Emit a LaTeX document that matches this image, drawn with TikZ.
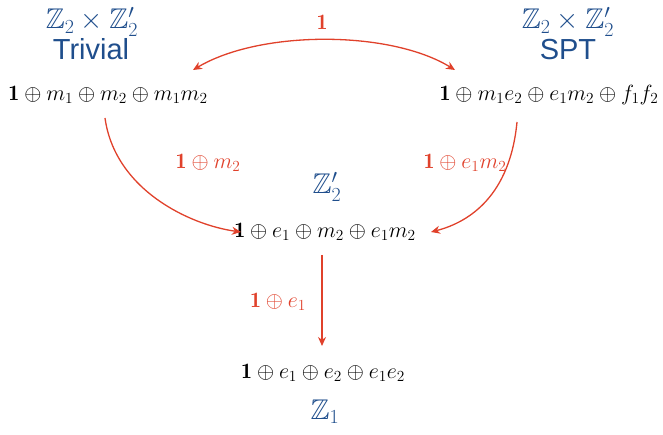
\RequirePackage{fix-cm}
\documentclass[tikz,border=0pt]{standalone}
\usepackage{amsmath,amssymb}
\usepackage{fontspec}
\setsansfont{Liberation Sans}
\usetikzlibrary{arrows.meta}
\definecolor{myblue}{HTML}{1F4E8C}
\definecolor{myred}{HTML}{E0412B}
\tikzset{
  grp/.style={text=myblue, font=\fontsize{28.5}{31}\selectfont, inner sep=0pt, anchor=base},
  grptxt/.style={text=myblue, font=\fontsize{29}{32}\selectfont\sffamily, inner sep=0pt, anchor=base},
  obj/.style={text=black, font=\fontsize{22}{25}\selectfont, inner sep=0pt},
  lab/.style={text=myred, font=\fontsize{22}{25}\selectfont, inner sep=0pt},
  arr/.style={draw=myred, line width=1.3pt, -{Stealth[length=9pt,width=8pt]}},
}
\begin{document}
\begin{tikzpicture}[x=1pt,y=-1pt]
\useasboundingbox (0,0) rectangle (663,435);
\node[grp] (gL) at (92,29) {$\mathbb{Z}_2\times\mathbb{Z}_2'$};
\node[grptxt] (tL) at (91,60) {Trivial};
\node[grp] (gR) at (568,29) {$\mathbb{Z}_2\times\mathbb{Z}_2'$};
\node[grptxt] (tR) at (568,60) {SPT};
\node[obj] (A) at (108,95) {$\mathbf{1}\oplus m_1\oplus m_2\oplus m_1m_2$};
\node[obj] (B) at (549,95) {$\mathbf{1}\oplus m_1e_2\oplus e_1m_2\oplus f_1f_2$};
\node[obj] (C) at (325,232) {$\mathbf{1}\oplus e_1\oplus m_2\oplus e_1m_2$};
\node[obj] (D) at (323,373) {$\mathbf{1}\oplus e_1\oplus e_2\oplus e_1e_2$};
\node[grp] (gC) at (327,194) {$\mathbb{Z}_2'$};
\node[grp] (gD) at (325,419) {$\mathbb{Z}_1$};
\coordinate (a1) at (193,70);
\coordinate (a2) at (455,70);
\coordinate (l1) at (105,118);
\coordinate (l2) at (241,232);
\coordinate (r1) at (517,122);
\coordinate (r2) at (431,232);
\coordinate (v1) at (322,255);
\coordinate (v2) at (322,346);
\draw[arr,{Stealth[length=9pt,width=8pt]}-{Stealth[length=9pt,width=8pt]}] (a1) .. controls (260,30) and (390,30) .. (a2);
\draw[arr] (l1) .. controls (115,190) and (190,225) .. (l2);
\draw[arr] (r1) .. controls (510,195) and (470,222) .. (r2);
\draw[arr] (v1) -- (v2);
\node[lab] (k0) at (322,22) {$\mathbf{1}$};
\node[lab] (k1) at (208,163) {$\mathbf{1}\oplus m_2$};
\node[lab] (k2) at (465,163) {$\mathbf{1}\oplus e_1m_2$};
\node[lab] (k3) at (278,302) {$\mathbf{1}\oplus e_1$};
\end{tikzpicture}
\end{document}
